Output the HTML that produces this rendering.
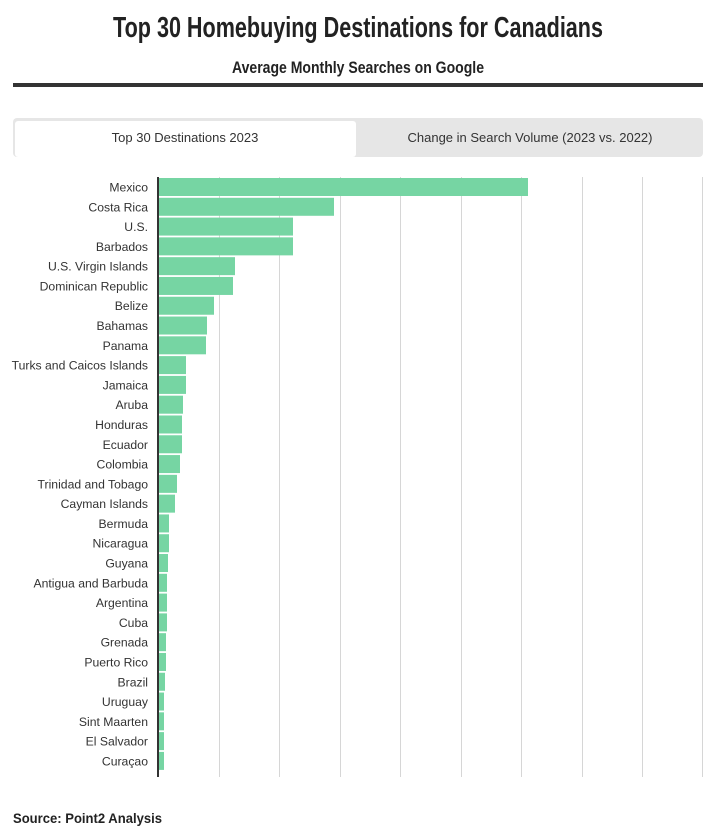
<!DOCTYPE html>
<html><head><meta charset="utf-8"><style>
body{margin:0;background:#fff;width:719px;height:831px;overflow:hidden;font-family:"Liberation Sans",sans-serif}
</style></head><body>
<svg width="719" height="831" xmlns="http://www.w3.org/2000/svg" font-family="Liberation Sans, sans-serif">
<text x="113" y="37" textLength="490" lengthAdjust="spacingAndGlyphs" font-size="29" font-weight="bold" fill="#222">Top 30 Homebuying Destinations for Canadians</text>
<text x="232" y="73" textLength="252" lengthAdjust="spacingAndGlyphs" font-size="17" font-weight="bold" fill="#222">Average Monthly Searches on Google</text>
<rect x="13" y="83" width="690" height="4" fill="#333"/>
<rect x="13" y="118" width="690" height="39" rx="4" fill="#e6e6e6"/>
<rect x="15" y="121" width="341" height="36" rx="3" fill="#fff"/>
<text x="185" y="142" text-anchor="middle" font-size="13" fill="#333">Top 30 Destinations 2023</text>
<text x="530" y="142" text-anchor="middle" font-size="13" fill="#333">Change in Search Volume (2023 vs. 2022)</text>
<g stroke="#d6d6d6" stroke-width="1">
<line x1="219.5" y1="177" x2="219.5" y2="777"/><line x1="279.5" y1="177" x2="279.5" y2="777"/><line x1="340.5" y1="177" x2="340.5" y2="777"/><line x1="400.5" y1="177" x2="400.5" y2="777"/><line x1="461.5" y1="177" x2="461.5" y2="777"/><line x1="521.5" y1="177" x2="521.5" y2="777"/><line x1="582.5" y1="177" x2="582.5" y2="777"/><line x1="642.5" y1="177" x2="642.5" y2="777"/><line x1="702.5" y1="177" x2="702.5" y2="777"/>
</g>
<g id="bars" fill="#76d5a3"></g>
<g id="labels" font-size="12.2" fill="#333" text-anchor="end"></g>
<rect x="157" y="177" width="2" height="600" fill="#333"/>
<text x="13" y="823" textLength="149" lengthAdjust="spacingAndGlyphs" font-size="14" font-weight="bold" fill="#222">Source: Point2 Analysis</text>
</svg>
<script>
var d=[["Mexico",528],["Costa Rica",334],["U.S.",293],["Barbados",293],["U.S. Virgin Islands",235],["Dominican Republic",233],["Belize",214],["Bahamas",207],["Panama",206],["Turks and Caicos Islands",186],["Jamaica",186],["Aruba",183],["Honduras",182],["Ecuador",182],["Colombia",180],["Trinidad and Tobago",177],["Cayman Islands",175],["Bermuda",169],["Nicaragua",169],["Guyana",168],["Antigua and Barbuda",167],["Argentina",167],["Cuba",167],["Grenada",166],["Puerto Rico",166],["Brazil",165],["Uruguay",164],["Sint Maarten",164],["El Salvador",164],["Curaçao",164]];
var ns="http://www.w3.org/2000/svg",b=document.getElementById("bars"),l=document.getElementById("labels");
d.forEach(function(r,i){var c=187+i*19.79;
var e=document.createElementNS(ns,"rect");e.setAttribute("x",158);e.setAttribute("y",c-9);e.setAttribute("width",r[1]-158);e.setAttribute("height",18);b.appendChild(e);
var t=document.createElementNS(ns,"text");t.setAttribute("x",148);t.setAttribute("y",c+4.5);t.textContent=r[0];l.appendChild(t);});
</script>
</body></html>
